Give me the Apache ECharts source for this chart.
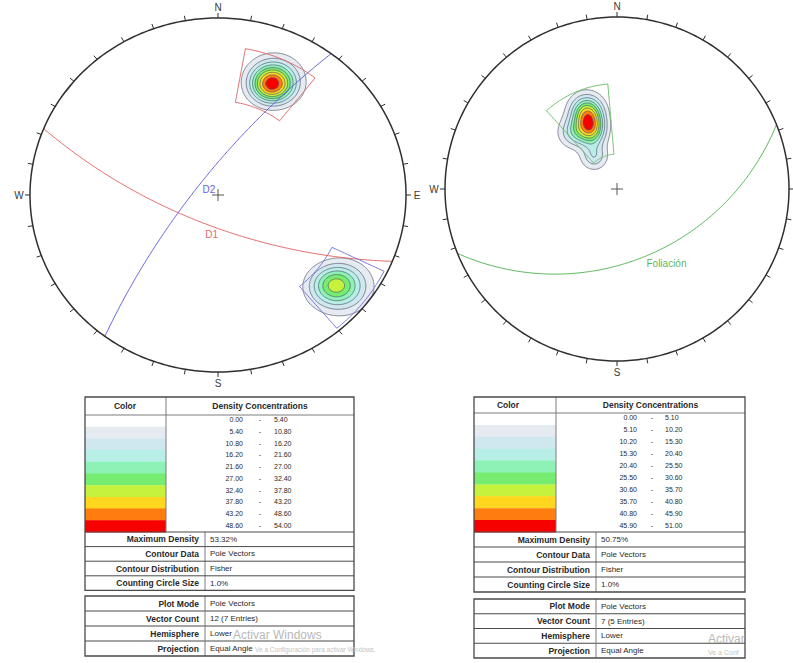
<!DOCTYPE html>
<html>
<head>
<meta charset="utf-8">
<title>Stereonets</title>
<script src="https://cdn.jsdelivr.net/npm/echarts@6/dist/echarts.min.js"></script>
<style>
html, body { margin: 0; padding: 0; background: #ffffff; }
#chart { width: 793px; height: 663px; }
</style>
</head>
<body>
<div id="chart"></div>
<script>
// ---- Pole vectors: [trend, plunge, count] ----
const polesLeft = [
  [25, 21, 3], [22, 22, 2], [29, 19, 1], [25, 18, 1],
  [129, 12, 3], [133, 16, 1], [126, 8, 1]
];
const polesRight = [
  [337, 46, 2], [339, 38, 2], [335, 52, 1], [325, 64, 1], [322, 45, 1]
];

// ---- Planes: [label, dip direction, dip] ----
const planesLeft = [['D1', 202, 70], ['D2', 307, 77]];
const planesRight = [['Foliación', 158, 44]];

// ---- Set windows: [trend from, trend to, plunge from, plunge to] ----
const windowsLeft = [[10, 38, 10, 34], [116, 140, 1, 22]];
const windowsRight = [[318, 355, 27, 67]];

// ---- Density concentration intervals (%) ----
const levelsLeft = [0.00, 5.40, 10.80, 16.20, 21.60, 27.00, 32.40, 37.80, 43.20, 48.60, 54.00];
const levelsRight = [0.00, 5.10, 10.20, 15.30, 20.40, 25.50, 30.60, 35.70, 40.80, 45.90, 51.00];
const levelColors = ['#ffffff', '#e6eaf1', '#cfe7ef', '#b7efe7', '#8ef2b6',
                     '#76ec70', '#c6f23e', '#ffd71e', '#ff7d0e', '#f70000'];

// ---- Table text ----
const contourInfoLeft = [
  ['Maximum Density', '53.32%'], ['Contour Data', 'Pole Vectors'],
  ['Contour Distribution', 'Fisher'], ['Counting Circle Size', '1.0%']
];
const contourInfoRight = [
  ['Maximum Density', '50.75%'], ['Contour Data', 'Pole Vectors'],
  ['Contour Distribution', 'Fisher'], ['Counting Circle Size', '1.0%']
];
const plotInfoLabels = ['Plot Mode', 'Vector Count', 'Hemisphere', 'Projection'];
const plotModeText = 'Pole Vectors';
const hemisphereText = 'Lower';
const projectionText = 'Equal Angle';
const compassLeft = ['N', 'E', 'S', 'W'];
const compassRight = ['N', '', 'S', 'W'];

// ---- Styling ----
const planeStyle = {
  'D1': { color: '#e46a6a', rake: 88, dx: 3, dy: 9 },
  'D2': { color: '#6464dc', rake: 90, dx: 8, dy: 7 },
  'Foliación': { color: '#5cb85c', rake: 75, dx: -2, dy: 18 }
};
const windowColorsLeft = ['#e07070', '#7a7ad8'];
const windowColorsRight = ['#72c272'];
const FONT = '"Liberation Sans", Arial, sans-serif';

const DEG = Math.PI / 180;
const KAPPA = 100;      // Fisher concentration of the counting kernel
const STEP = 0.005;     // density grid spacing in projection units

function toVec(trend, plunge) {
  const t = trend * DEG, p = plunge * DEG;
  return [Math.sin(t) * Math.cos(p), Math.cos(t) * Math.cos(p), Math.sin(p)];
}
// equal-angle (stereographic) lower hemisphere projection
function project(v) {
  let e = v[0], n = v[1], d = v[2];
  if (d < 0) { e = -e; n = -n; d = -d; }
  return [e / (1 + d), n / (1 + d)];
}
function unproject(x, y) {
  const r2 = x * x + y * y, k = 1 + r2;
  return [2 * x / k, 2 * y / k, (1 - r2) / k];
}

// Fisher density (% of vectors per 1% of hemisphere area) on a regular grid
function densityGrid(poles) {
  const vs = poles.map(p => [toVec(p[0], p[1]), p[2]]);
  const total = poles.reduce((s, p) => s + p[2], 0);
  const n = Math.round(2 / STEP) + 1;
  const vals = new Float64Array(n * n);
  const inside = new Uint8Array(n * n);
  for (let j = 0; j < n; j++) {
    const y = -1 + j * STEP;
    for (let i = 0; i < n; i++) {
      const x = -1 + i * STEP;
      const r2 = x * x + y * y;
      if (r2 > 1.05) continue;
      const u = unproject(x, y);
      let s = 0;
      for (const [v, w] of vs) {
        const c = u[0] * v[0] + u[1] * v[1] + u[2] * v[2];
        s += w * (Math.exp(KAPPA * (c - 1)) + Math.exp(KAPPA * (-c - 1)));
      }
      vals[j * n + i] = s * KAPPA / total;
      if (r2 <= 1) inside[j * n + i] = 1;
    }
  }
  return { n, vals, inside };
}

// horizontal runs of grid nodes at or above a level (filled bands)
function bandRuns(G, level) {
  const runs = [];
  for (let j = 0; j < G.n; j++) {
    let start = -1;
    for (let i = 0; i <= G.n; i++) {
      const ok = i < G.n && G.inside[j * G.n + i] && G.vals[j * G.n + i] >= level;
      if (ok && start < 0) start = i;
      if (!ok && start >= 0) {
        runs.push([-1 + start * STEP - STEP / 2, -1 + (i - 1) * STEP + STEP / 2, -1 + j * STEP]);
        start = -1;
      }
    }
  }
  return runs;
}

// marching squares isolines
function isoSegments(G, level) {
  const n = G.n, V = G.vals, segs = [];
  for (let j = 0; j < n - 1; j++) {
    for (let i = 0; i < n - 1; i++) {
      const a = V[j * n + i], b = V[j * n + i + 1], c = V[(j + 1) * n + i + 1], d = V[(j + 1) * n + i];
      const A = a >= level, B = b >= level, C = c >= level, D = d >= level;
      if (A === B && B === C && C === D) continue;
      const x0 = -1 + i * STEP, y0 = -1 + j * STEP;
      const pts = [];
      if (A !== B) pts.push([x0 + STEP * (level - a) / (b - a), y0]);
      if (B !== C) pts.push([x0 + STEP, y0 + STEP * (level - b) / (c - b)]);
      if (D !== C) pts.push([x0 + STEP * (level - d) / (c - d), y0 + STEP]);
      if (A !== D) pts.push([x0, y0 + STEP * (level - a) / (d - a)]);
      let pairs = [];
      if (pts.length === 2) pairs = [[pts[0], pts[1]]];
      else if (pts.length === 4) {
        const m = (a + b + c + d) / 4;
        pairs = ((m >= level) === A) ? [[pts[0], pts[1]], [pts[2], pts[3]]] : [[pts[0], pts[3]], [pts[1], pts[2]]];
      }
      for (const s of pairs) {
        if (s[0][0] ** 2 + s[0][1] ** 2 > 1 || s[1][0] ** 2 + s[1][1] ** 2 > 1) continue;
        segs.push(s);
      }
    }
  }
  return segs;
}

function planeVector(dipDir, dip, rake) {
  const s = toVec(dipDir - 90, 0), d = toVec(dipDir, dip);
  const ca = Math.cos(rake * DEG), sa = Math.sin(rake * DEG);
  return [ca * s[0] + sa * d[0], ca * s[1] + sa * d[1], ca * s[2] + sa * d[2]];
}
function greatCirclePoints(dipDir, dip) {
  const pts = [];
  for (let a = 0; a <= 180; a += 1) pts.push(project(planeVector(dipDir, dip, a)));
  return pts;
}
function windowPoints(w) {
  const [t1, t2, p1, p2] = w, pts = [];
  for (let t = t1; t <= t2; t += 1) pts.push(project(toVec(t, p1)));
  for (let p = p1; p <= p2; p += 1) pts.push(project(toVec(t2, p)));
  for (let t = t2; t >= t1; t -= 1) pts.push(project(toVec(t, p2)));
  for (let p = p2; p >= p1; p -= 1) pts.push(project(toVec(t1, p)));
  return pts;
}

function netSeries(g, poles, levels, planes, windows, windowColors, compass) {
  const G = densityGrid(poles);
  const bandIdx = levels.slice(1, levels.length - 1).map((L, i) => [0, 0, i + 1]);
  const runs = {}, isos = {};
  bandIdx.forEach(b => { const k = b[2]; runs[k] = bandRuns(G, levels[k]); isos[k] = isoSegments(G, levels[k]); });
  const base = { type: 'custom', coordinateSystem: 'cartesian2d', xAxisIndex: g, yAxisIndex: g, silent: true, clip: false, animation: false };

  const fills = Object.assign({}, base, {
    data: bandIdx,
    renderItem: (params, api) => {
      const k = api.value(2);
      let path = '';
      for (const r of runs[k]) {
        const p1 = api.coord([r[0], r[2] + STEP / 2]), p2 = api.coord([r[1], r[2] - STEP / 2]);
        path += 'M' + p1[0].toFixed(2) + ' ' + p1[1].toFixed(2) + 'H' + p2[0].toFixed(2) + 'V' + p2[1].toFixed(2) + 'H' + p1[0].toFixed(2) + 'Z';
      }
      if (!path) return { type: 'group', children: [] };
      return { type: 'path', shape: { pathData: path }, style: { fill: levelColors[k], stroke: null } };
    }
  });
  const lines = Object.assign({}, base, {
    data: bandIdx,
    renderItem: (params, api) => {
      const k = api.value(2);
      let path = '';
      for (const s of isos[k]) {
        const p1 = api.coord(s[0]), p2 = api.coord(s[1]);
        path += 'M' + p1[0].toFixed(2) + ' ' + p1[1].toFixed(2) + 'L' + p2[0].toFixed(2) + ' ' + p2[1].toFixed(2);
      }
      if (!path) return { type: 'group', children: [] };
      return { type: 'path', shape: { pathData: path }, style: { fill: null, stroke: '#4f5566', lineWidth: 0.8, opacity: 0.85 } };
    }
  });
  const wins = Object.assign({}, base, {
    data: windows.map((w, i) => [0, 0, i]),
    renderItem: (params, api) => {
      const i = api.value(2);
      const pts = windowPoints(windows[i]).map(p => api.coord(p));
      return { type: 'polygon', shape: { points: pts }, style: { fill: null, stroke: windowColors[i], lineWidth: 1 } };
    }
  });
  const gcs = Object.assign({}, base, {
    data: planes.map((p, i) => [0, 0, i]),
    renderItem: (params, api) => {
      const [name, dd, dip] = planes[api.value(2)];
      const st = planeStyle[name];
      const pts = greatCirclePoints(dd, dip).map(p => api.coord(p));
      const lp = api.coord(project(planeVector(dd, dip, st.rake)));
      return { type: 'group', children: [
        { type: 'polyline', shape: { points: pts }, style: { fill: null, stroke: st.color, lineWidth: 1 } },
        { type: 'text', x: lp[0] + st.dx, y: lp[1] + st.dy,
          style: { text: name, fill: st.color, font: '10px ' + FONT, align: 'center', verticalAlign: 'middle', textAlign: 'center', textVerticalAlign: 'middle' } }
      ] };
    }
  });
  const frame = Object.assign({}, base, {
    data: [[0, 0, 0]],
    renderItem: (params, api) => {
      const c = api.coord([0, 0]);
      const circ = [];
      for (let a = 0; a < 360; a += 1) circ.push(api.coord([Math.sin(a * DEG), Math.cos(a * DEG)]));
      let ticks = '';
      const texts = [];
      for (let a = 0; a < 360; a += 10) {
        const p = api.coord([Math.sin(a * DEG), Math.cos(a * DEG)]);
        const dx = p[0] - c[0], dy = p[1] - c[1], len = Math.hypot(dx, dy);
        const ux = dx / len, uy = dy / len;
        ticks += 'M' + p[0].toFixed(2) + ' ' + p[1].toFixed(2) + 'L' + (p[0] + ux * 5).toFixed(2) + ' ' + (p[1] + uy * 5).toFixed(2);
        if (a % 90 === 0 && compass[a / 90]) {
          texts.push({ type: 'text', x: p[0] + ux * 11, y: p[1] + uy * 11,
            style: { text: compass[a / 90], fill: '#3a3a3a', font: '10px ' + FONT, align: 'center', verticalAlign: 'middle', textAlign: 'center', textVerticalAlign: 'middle' } });
        }
      }
      const cross = 'M' + (c[0] - 6) + ' ' + c[1] + 'H' + (c[0] + 6) + 'M' + c[0] + ' ' + (c[1] - 6) + 'V' + (c[1] + 6);
      return { type: 'group', children: [
        { type: 'polygon', shape: { points: circ }, style: { fill: null, stroke: '#2f2f2f', lineWidth: 1.5 } },
        { type: 'path', shape: { pathData: ticks }, style: { fill: null, stroke: '#2f2f2f', lineWidth: 1 } },
        { type: 'path', shape: { pathData: cross }, style: { fill: null, stroke: '#555555', lineWidth: 1 } }
      ].concat(texts) };
    }
  });
  return [fills, lines, gcs, wins, frame];
}

// ---- Legend tables ----
const tableLayoutLeft = { x0: 85, x1: 354, top: 397, headH: 18, rowH: 11.7, infoH: 14.6, gap: 5.6, plotH: 15,
  colDiv: 166, labDiv: 205, loX: 243, dashX: 260, hiX: 274, colorX: 125 };
const tableLayoutRight = { x0: 474, x1: 745, top: 397, headH: 16, rowH: 11.9, infoH: 15, gap: 7, plotH: 14.75,
  colDiv: 556, labDiv: 596, loX: 637, dashX: 652, hiX: 665, colorX: 508 };

function txt(x, y, s, font, align, color) {
  return { type: 'text', x: x, y: y, silent: true,
    style: { text: s, font: font, fill: color || '#2a2a2a', align: align, verticalAlign: 'middle', textAlign: align, textVerticalAlign: 'middle' } };
}
function hline(x1, x2, y, w, c) { return { type: 'line', silent: true, shape: { x1: x1, y1: y, x2: x2, y2: y }, style: { stroke: c, lineWidth: w } }; }
function vline(x, y1, y2, w, c) { return { type: 'line', silent: true, shape: { x1: x, y1: y1, x2: x, y2: y2 }, style: { stroke: c, lineWidth: w } }; }

function tableElements(L, levels, info, poles) {
  const els = [];
  const dark = '#4a4a4a', mid = '#7d7d7d';
  const bold = 'bold 8.5px ' + FONT, reg = '8px ' + FONT, num = '7px ' + FONT;
  const yHead = L.top + L.headH, ySw = yHead + 10 * L.rowH, yInfo = ySw + 4 * L.infoH;
  const y2 = yInfo + L.gap, y2b = y2 + 4 * L.plotH;
  for (let k = 0; k < 10; k++) {
    els.push({ type: 'rect', silent: true, shape: { x: L.x0, y: yHead + k * L.rowH, width: L.colDiv - L.x0, height: L.rowH + 0.4 }, style: { fill: levelColors[k] } });
    const yc = yHead + (k + 0.5) * L.rowH - 1;
    els.push(txt(L.loX, yc, levels[k].toFixed(2), num, 'right'));
    els.push(txt(L.dashX, yc, '-', num, 'center'));
    els.push(txt(L.hiX, yc, levels[k + 1].toFixed(2), num, 'left'));
  }
  els.push(txt(L.colorX, L.top + L.headH / 2, 'Color', bold, 'center'));
  els.push(txt((L.colDiv + L.x1) / 2, L.top + L.headH / 2, 'Density Concentrations', bold, 'center'));
  els.push(hline(L.x0, L.x1, yHead, 1, mid));
  els.push(vline(L.colDiv, L.top, ySw, 1, mid));
  els.push(vline(L.labDiv, ySw, yInfo, 1, mid));
  for (let r = 0; r < 4; r++) {
    const y = ySw + r * L.infoH;
    els.push(hline(L.x0, L.x1, y, 1, dark));
    els.push(txt(L.labDiv - 6, y + L.infoH / 2, info[r][0], bold, 'right'));
    els.push(txt(L.labDiv + 5, y + L.infoH / 2, info[r][1], reg, 'left'));
  }
  els.push({ type: 'rect', silent: true, shape: { x: L.x0, y: L.top, width: L.x1 - L.x0, height: yInfo - L.top }, style: { fill: null, stroke: dark, lineWidth: 1.3 } });
  const total = poles.reduce((s, p) => s + p[2], 0);
  const plotValues = [plotModeText, total + ' (' + poles.length + ' Entries)', hemisphereText, projectionText];
  for (let r = 0; r < 4; r++) {
    const y = y2 + r * L.plotH;
    if (r > 0) els.push(hline(L.x0, L.x1, y, 1, dark));
    els.push(txt(L.labDiv - 6, y + L.plotH / 2, plotInfoLabels[r], bold, 'right'));
    els.push(txt(L.labDiv + 5, y + L.plotH / 2, plotValues[r], reg, 'left'));
  }
  els.push(vline(L.labDiv, y2, y2b, 1, mid));
  els.push({ type: 'rect', silent: true, shape: { x: L.x0, y: y2, width: L.x1 - L.x0, height: y2b - y2 }, style: { fill: null, stroke: dark, lineWidth: 1.3 } });
  return els;
}

// faint system notice lying over the tables
const overlayText = [
  txt(233, 635, 'Activar Windows', '12px ' + FONT, 'left', '#b8b8b8'),
  txt(255, 649, 'Ve a Configuración para activar Windows.', '6.5px ' + FONT, 'left', '#c4c4c4'),
  txt(708, 639, 'Activar', '12px ' + FONT, 'left', '#b8b8b8'),
  txt(708, 652, 'Ve a Conf', '7px ' + FONT, 'left', '#c4c4c4')
];

const chart = echarts.init(document.getElementById('chart'), null, { renderer: 'svg', width: 793, height: 663 });
chart.setOption({
  animation: false,
  backgroundColor: '#ffffff',
  grid: [
    { left: 30, top: 18, width: 376, height: 354 },
    { left: 445, top: 17, width: 344, height: 344 }
  ],
  xAxis: [
    { type: 'value', gridIndex: 0, min: -1, max: 1, show: false },
    { type: 'value', gridIndex: 1, min: -1, max: 1, show: false }
  ],
  yAxis: [
    { type: 'value', gridIndex: 0, min: -1, max: 1, show: false },
    { type: 'value', gridIndex: 1, min: -1, max: 1, show: false }
  ],
  series: netSeries(0, polesLeft, levelsLeft, planesLeft, windowsLeft, windowColorsLeft, compassLeft)
    .concat(netSeries(1, polesRight, levelsRight, planesRight, windowsRight, windowColorsRight, compassRight)),
  graphic: tableElements(tableLayoutLeft, levelsLeft, contourInfoLeft, polesLeft)
    .concat(tableElements(tableLayoutRight, levelsRight, contourInfoRight, polesRight))
    .concat(overlayText)
});
</script>
</body>
</html>
